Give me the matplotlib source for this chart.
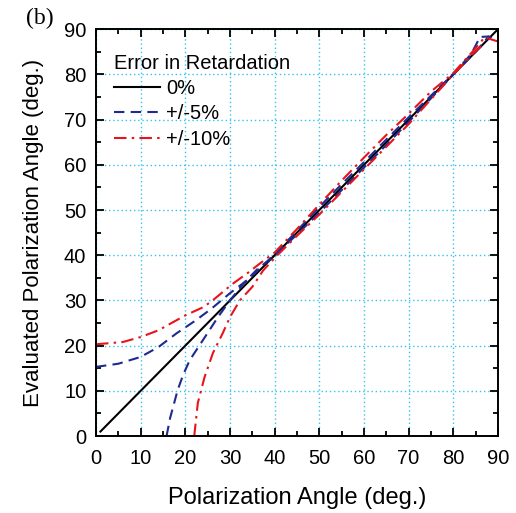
import matplotlib.pyplot as plt

plt.rcParams['font.family'] = ['Liberation Sans', 'DejaVu Sans']

# values
x_ideal = [1, 90]
y_ideal = [1, 90]

x_blue_up = [0, 5, 10, 14, 18, 22.5, 26, 30, 34, 37, 40, 45, 50, 55, 60, 65, 70, 75, 80, 84, 86, 88, 89.5]
y_blue_up = [15.3, 16.0, 17.5, 19.7, 22.7, 25.7, 28.3, 31.6, 34.6, 37.4, 40.2, 45.4, 50.7, 55.7, 60.6, 65.6, 70.5, 75.3, 80.1, 84.5, 88.3, 88.4, 87.3]
x_blue_lo = [15.8, 16.6, 18.3, 19.5, 21, 24.4, 27.3, 30, 32.9, 36, 40, 45, 50, 55, 60, 65, 70, 75, 80, 85, 88]
y_blue_lo = [0, 4, 10.2, 13.5, 16.8, 21.9, 26.3, 30, 33.6, 36.8, 39.9, 44.6, 49.4, 54.4, 59.4, 64.4, 69.5, 74.7, 80, 85, 88.5]

x_red_up = [0, 6, 10, 14, 20, 24, 26, 30.5, 34, 37, 40, 45, 50, 55, 60, 65, 70, 75, 80, 85, 87, 90]
y_red_up = [20.3, 20.8, 21.9, 23.4, 26.7, 28.5, 29.9, 33.6, 36.1, 38.4, 40.6, 45.8, 51.2, 56.5, 61.6, 66.6, 71.3, 76.2, 80.3, 85.8, 88.2, 87.3]
x_red_lo = [22, 22.8, 24.3, 26.2, 28.4, 30, 32.2, 35, 37.4, 40, 45, 50, 55, 60, 65, 70, 75, 80, 85, 87]
y_red_lo = [0, 7.3, 13, 18.4, 22.8, 26.3, 30, 33, 36.6, 39.4, 44.3, 49, 54, 59, 64, 69, 74.5, 80, 85.2, 86.8]

fig = plt.figure(figsize=(5.16, 5.13), dpi=100)
ax = fig.add_axes([0.186, 0.150, 0.779, 0.793])

ax.plot(x_ideal, y_ideal, color='black', lw=1.5, label='0%')
ax.plot(x_blue_up, y_blue_up, color='#1f2a8f', lw=1.5, ls=(0, (5, 3)), label='+/-5%')
ax.plot(x_blue_lo, y_blue_lo, color='#1f2a8f', lw=1.5, ls=(0, (5, 3)))
ax.plot(x_red_up, y_red_up, color='#e8141c', lw=1.5, ls=(0, (6, 2.5, 1.2, 2.5)), label='+/-10%')
ax.plot(x_red_lo, y_red_lo, color='#e8141c', lw=1.5, ls=(0, (6, 2.5, 1.2, 2.5)))

ax.set_xlim(0, 90)
ax.set_ylim(0, 90)
ax.set_xticks(range(0, 91, 10))
ax.set_yticks(range(0, 91, 10))
ax.set_xticks(range(5, 90, 10), minor=True)
ax.set_yticks(range(5, 90, 10), minor=True)
ax.tick_params(which='both', direction='in', top=True, right=True, width=1.3)
ax.tick_params(which='major', length=6, labelsize=14.5)
ax.tick_params(which='minor', length=3.5)
ax.tick_params(axis='x', pad=9)
ax.tick_params(axis='y', pad=7)
for s in ax.spines.values():
    s.set_linewidth(1.4)

ax.grid(True, which='major', color='#33c4f0', ls=(0, (1, 2)), lw=1.0)

ax.set_xlabel('Polarization Angle (deg.)', fontsize=17, labelpad=14)
ax.set_ylabel('Evaluated Polarization Angle (deg.)', fontsize=16, labelpad=14)

leg = ax.legend(title='Error in Retardation', loc='upper left', frameon=False,
                fontsize=14.5, title_fontsize=14.5, handlelength=2.3, handletextpad=0.3,
                labelspacing=0.32, borderaxespad=0.3, bbox_to_anchor=(0.01, 0.975))
leg._legend_box.align = 'left'

fig.text(0.05, 0.965, '(b)', fontsize=17, family='Liberation Serif', va='center')

fig.savefig('out.png', dpi=100)
